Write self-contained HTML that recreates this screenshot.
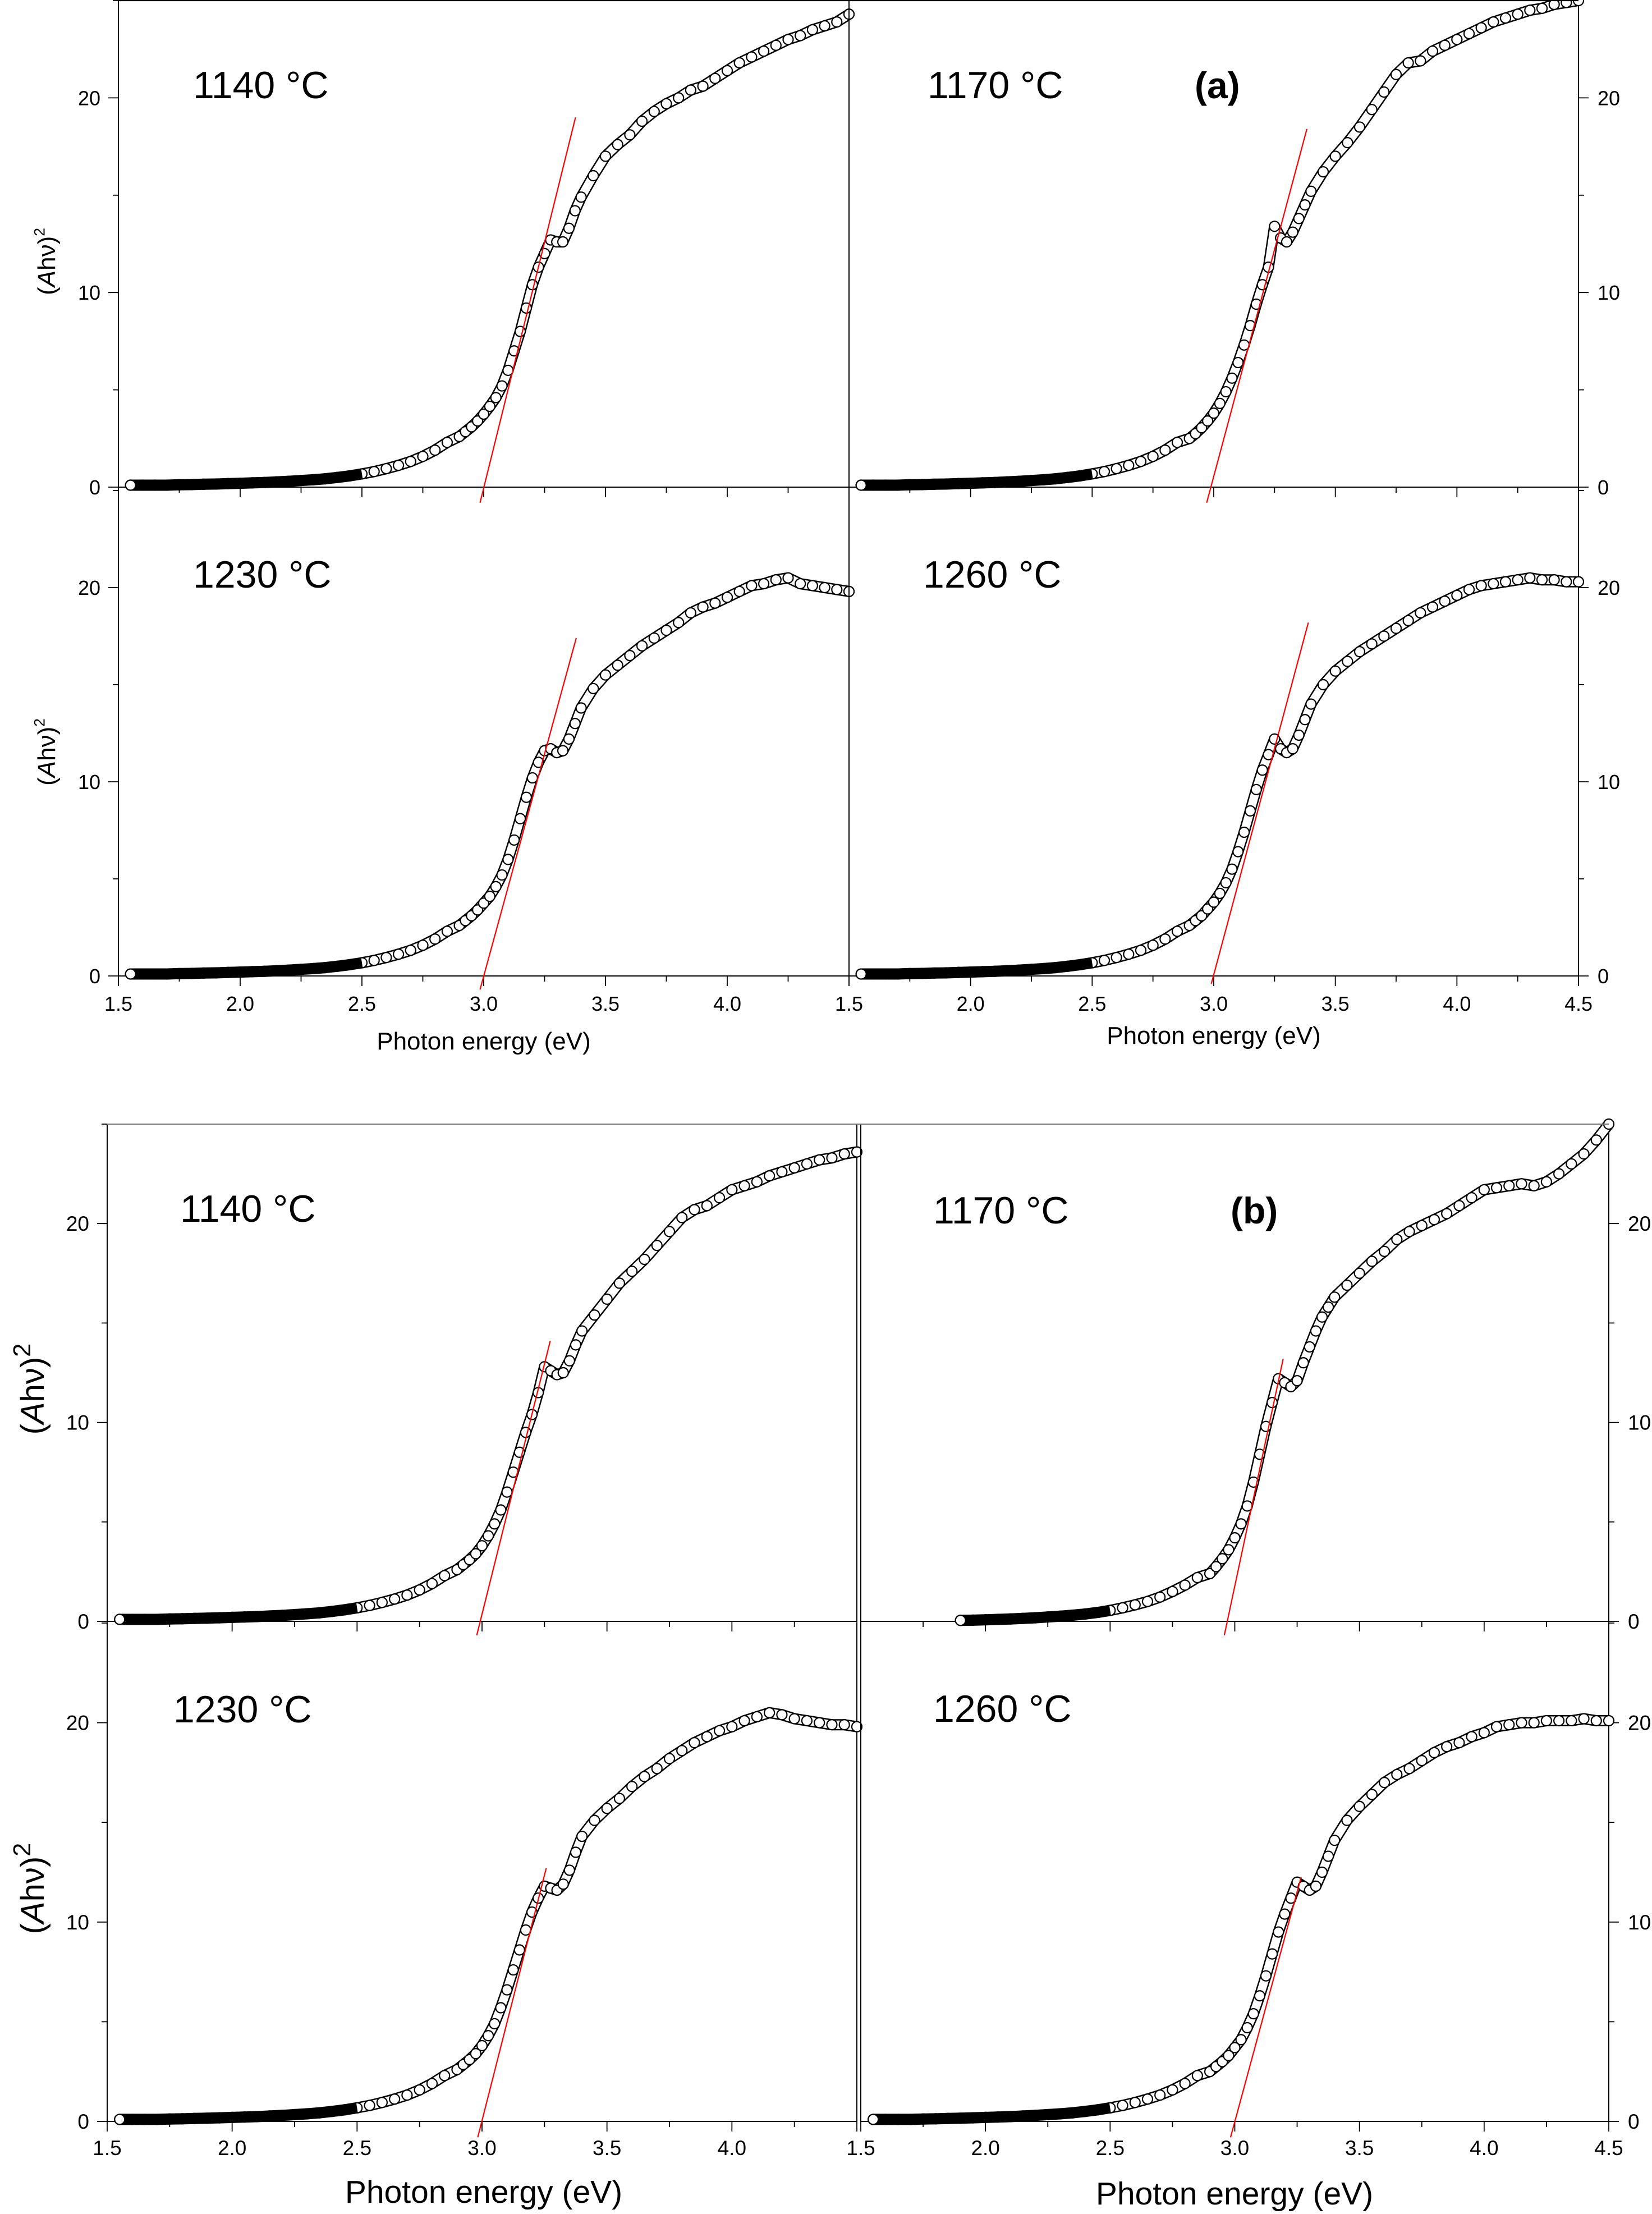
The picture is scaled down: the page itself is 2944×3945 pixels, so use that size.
<!DOCTYPE html>
<html><head><meta charset="utf-8"><style>
html,body{margin:0;padding:0;background:#fff;}
svg{display:block;font-family:"Liberation Sans",Arial,sans-serif;}
</style></head><body>
<svg id="fig" width="2944" height="3945" viewBox="0 0 2944 3945" xmlns="http://www.w3.org/2000/svg"></svg>
<script>
// ---- data ----
const energies = [1.55,1.60,1.65,1.70,1.75,1.80,1.85,1.90,1.95,2.00,2.05,2.10,2.15,2.20,2.25,2.30,2.35,2.40,2.45,2.50,2.55,2.60,2.65,2.70,2.75,2.80,2.85,
2.900,2.925,2.950,2.975,3.000,3.025,3.050,3.075,3.100,3.125,3.150,3.175,3.200,3.225,3.250,3.275,3.300,3.325,3.350,3.375,3.400,
3.45,3.50,3.55,3.60,3.65,3.70,3.75,3.80,3.85,3.90,3.95,4.00,4.05,4.10,4.15,4.20,4.25,4.30,4.35,4.40,4.45,4.50];
const lowA = [0.1,0.1,0.1,0.1,0.12,0.13,0.15,0.16,0.18,0.2,0.22,0.24,0.27,0.3,0.34,0.38,0.43,0.5,0.58,0.68,0.8,0.95,1.12,1.32,1.58,1.9,2.3];
const yA1140 = lowA.concat([2.6,2.85,3.1,3.4,3.75,4.15,4.6,5.2,6.0,7.0,8.0,9.2,10.4,11.3,12.0,12.7,12.6,12.6,13.3,14.2,14.9,
 16.0,17.0,17.6,18.1,18.8,19.3,19.7,20.0,20.4,20.6,21.0,21.4,21.8,22.1,22.4,22.7,23.0,23.2,23.5,23.7,23.9,24.3]);
const yA1170 = lowA.concat([2.5,2.75,3.05,3.4,3.8,4.3,4.9,5.6,6.4,7.3,8.3,9.4,10.4,11.3,13.4,12.8,12.6,13.1,13.8,14.5,15.2,
 16.2,17.0,17.7,18.5,19.4,20.3,21.2,21.8,21.9,22.4,22.7,23.0,23.3,23.6,23.9,24.1,24.3,24.5,24.6,24.8,24.9,25.0]);
const yA1230 = lowA.concat([2.6,2.85,3.1,3.4,3.75,4.1,4.6,5.2,6.0,7.0,8.1,9.2,10.2,11.0,11.6,11.7,11.5,11.6,12.2,13.0,13.8,
 14.8,15.5,16.0,16.5,17.0,17.4,17.8,18.2,18.7,19.0,19.2,19.5,19.8,20.1,20.2,20.4,20.5,20.2,20.1,20.0,19.9,19.8]);
const yA1260 = lowA.concat([2.6,2.85,3.1,3.45,3.8,4.25,4.8,5.5,6.4,7.4,8.5,9.6,10.6,11.4,12.2,11.7,11.5,11.7,12.4,13.2,14.0,
 15.0,15.7,16.2,16.7,17.1,17.5,17.9,18.3,18.7,19.0,19.3,19.6,19.9,20.1,20.2,20.3,20.4,20.5,20.4,20.4,20.3,20.3]);
const yB1140 = lowA.concat([2.6,2.85,3.1,3.4,3.8,4.3,4.9,5.6,6.5,7.5,8.5,9.5,10.4,11.5,12.8,12.6,12.4,12.5,13.1,13.9,14.6,
 15.4,16.2,17.0,17.6,18.2,18.9,19.6,20.3,20.7,20.9,21.3,21.7,21.9,22.1,22.4,22.6,22.8,23.0,23.2,23.3,23.5,23.6]);
const yB1170 = [null,null,null,null,null,null,null,0.05,0.06,0.08,0.1,0.12,0.15,0.18,0.22,0.26,0.31,0.37,0.45,0.55,0.68,0.83,1.0,1.22,1.5,1.82,2.2,
 2.4,2.75,3.15,3.6,4.2,4.9,5.8,7.0,8.4,9.8,11.0,12.2,12.0,11.8,12.1,13.0,13.8,14.6,15.3,15.8,16.3,
 16.9,17.5,18.1,18.6,19.2,19.6,19.9,20.2,20.5,20.9,21.3,21.7,21.8,21.9,22.0,21.9,22.1,22.5,23.0,23.5,24.2,25.0];
const yB1230 = lowA.concat([2.6,2.85,3.1,3.4,3.8,4.3,4.9,5.7,6.6,7.6,8.6,9.6,10.5,11.2,11.8,11.7,11.6,11.9,12.6,13.5,14.3,
 15.1,15.7,16.2,16.8,17.3,17.7,18.2,18.6,19.0,19.3,19.6,19.8,20.1,20.3,20.5,20.4,20.2,20.1,20.0,19.9,19.9,19.8]);
const yB1260 = lowA.concat([2.5,2.75,3.0,3.3,3.7,4.1,4.7,5.4,6.3,7.3,8.4,9.5,10.4,11.2,12.0,11.8,11.6,11.8,12.5,13.3,14.1,
 15.1,15.8,16.4,17.0,17.4,17.7,18.1,18.5,18.8,19.0,19.3,19.5,19.8,19.9,20.0,20.0,20.1,20.1,20.1,20.2,20.1,20.1]);
// tangent-fit endpoints [x0,x1] / [y0,y1]
const fitA1140X = [2.985,3.377], fitA1140Y = [-0.8,19.0];
const fitA1170X = [2.971,3.383], fitA1170Y = [-0.8,18.4];
const fitA1230X = [2.985,3.380], fitA1230Y = [-0.7,17.4];
const fitA1260X = [2.990,3.389], fitA1260Y = [-0.4,18.2];
const fitB1140X = [2.979,3.273], fitB1140Y = [-0.7,14.1];
const fitB1170X = [2.958,3.194], fitB1170Y = [-0.7,13.2];
const fitB1230X = [2.983,3.257], fitB1230Y = [-0.8,12.7];
const fitB1260X = [2.983,3.266], fitB1260Y = [-0.8,12.25];
const xTicks = [1.5,2.0,2.5,3.0,3.5,4.0,4.5];
const xTickLabels = ["1.5","2.0","2.5","3.0","3.5","4.0","4.5"];
const yTicks = [0,10,20];
const yTickLabels = ["0","10","20"];

const NS = "http://www.w3.org/2000/svg";
const svg = document.getElementById('fig');
function mk(tag, attrs, parent){ const e=document.createElementNS(NS,tag); for(const k in attrs) e.setAttribute(k,attrs[k]); (parent||svg).appendChild(e); return e; }

function panel(name, P, ys, fx, fy, label, side, showXLabels, tickFont){
  const g = mk('g',{});
  
  
  const sx = v => P.xl + (v-1.5)/3*(P.xr-P.xl);
  const sy = v => P.yb - v*(P.yb-P.yt)/25;
  const ax = mk('path',{d:`M${P.xl},${P.yt} L${P.xl},${P.yb} L${P.xr},${P.yb} L${P.xr},${P.yt}`,fill:'none',stroke:'#000','stroke-width':2},g);
  
  
  const axX = side==='left'?P.xl:P.xr, dir = side==='left'?-1:1;
  for(let v=0; v<=25; v+=5){
    const len = (v%10===0)?18:10;
    mk('line',{x1:axX,y1:sy(v),x2:axX+dir*len,y2:sy(v),stroke:'#000','stroke-width':1.8},g);
  }
  yTicks.forEach((v,i)=>{
    const t = mk('text',{x: side==='left'? axX-32 : axX+34, y: sy(v)+13, 'font-size':tickFont, 'text-anchor': side==='left'?'end':'start'},g);
    t.textContent = yTickLabels[i];
    
    
  });
  for(let v=1.5; v<=4.5001; v+=0.25){
    const major = Math.abs(v*2-Math.round(v*2))<1e-6;
    mk('line',{x1:sx(v),y1:P.yb,x2:sx(v),y2:P.yb+(major?18:10),stroke:'#000','stroke-width':1.8},g);
  }
  if(showXLabels){
    xTicks.forEach((v,i)=>{
      if(P.skipLast && i===xTicks.length-1) return;
      const t = mk('text',{x:sx(v), y:P.yb+P.lblOff, 'font-size':tickFont, 'text-anchor':'middle'},g);
      t.textContent = xTickLabels[i];
      
      
    });
  }
  let d='', dLow='';
  energies.forEach((e,i)=>{
    if(ys[i]==null) return;
    const pt = sx(e).toFixed(1)+','+sy(ys[i]).toFixed(1);
    d += (d?'L':'M')+pt;
    if(e<=2.5) dLow += (dLow?'L':'M')+pt;
  });
  mk('path',{d, fill:'none', stroke:'#000','stroke-width':20,'stroke-linejoin':'round','stroke-linecap':'round'},g);
  mk('path',{d, fill:'none', stroke:'#fff','stroke-width':15,'stroke-linejoin':'round','stroke-linecap':'round'},g);
  energies.forEach((e,i)=>{
    if(ys[i]==null) return;
    const c = mk('circle',{cx:sx(e), cy:sy(ys[i]), r:9, fill:'#fff', stroke:'#000','stroke-width':2.2},g);
    
    
  });
  if(dLow){
    const first = energies.findIndex((e,i)=>ys[i]!=null);
    mk('path',{d:dLow, fill:'none', stroke:'#000','stroke-width':17,'stroke-linejoin':'round','stroke-linecap':'butt'},g);
    mk('circle',{cx:sx(energies[first]), cy:sy(ys[first]), r:9, fill:'#fff', stroke:'#000','stroke-width':2.2},g);
  }
  const fl = mk('line',{x1:sx(fx[0]),y1:sy(fy[0]),x2:sx(fx[1]),y2:sy(fy[1]),stroke:'#ff0000','stroke-width':2.2},g);
  
  
  const t = mk('text',{x:label.x, y:label.y, 'font-size':68},g);
  t.textContent = label.text;
  
  
}

const aL={xl:211,xr:1513}, aR={xl:1513,xr:2813};
panel('panel-a-1140', {...aL, yb:868, yt:1}, yA1140, fitA1140X, fitA1140Y, {x:344,y:175,text:'1140 °C'}, 'left', false, 36);
panel('panel-a-1170', {...aR, yb:868, yt:1}, yA1170, fitA1170X, fitA1170Y, {x:1653,y:175,text:'1170 °C'}, 'right', false, 36);
panel('panel-a-1230', {...aL, yb:1739, yt:874, lblOff:62, skipLast:true}, yA1230, fitA1230X, fitA1230Y, {x:344,y:1047,text:'1230 °C'}, 'left', true, 36);
panel('panel-a-1260', {...aR, yb:1739, yt:874, lblOff:62}, yA1260, fitA1260X, fitA1260Y, {x:1645,y:1047,text:'1260 °C'}, 'right', true, 36);
const bL={xl:191,xr:1527}, bR={xl:1534,xr:2867};
panel('panel-b-1140', {...bL, yb:2889, yt:2003}, yB1140, fitB1140X, fitB1140Y, {x:321,y:2177,text:'1140 °C'}, 'left', false, 37);
panel('panel-b-1170', {...bR, yb:2889, yt:2003}, yB1170, fitB1170X, fitB1170Y, {x:1663,y:2180,text:'1170 °C'}, 'right', false, 37);
panel('panel-b-1230', {...bL, yb:3780, yt:2892, lblOff:60, skipLast:true}, yB1230, fitB1230X, fitB1230Y, {x:309,y:3069,text:'1230 °C'}, 'left', true, 37);
panel('panel-b-1260', {...bR, yb:3780, yt:2892, lblOff:60}, yB1260, fitB1260X, fitB1260Y, {x:1663,y:3068,text:'1260 °C'}, 'right', true, 37);

mk('line',{x1:211,y1:1,x2:2813,y2:1,stroke:'#000','stroke-width':2.2});
mk('line',{x1:191,y1:2003,x2:2867,y2:2003,stroke:'#777','stroke-width':2});

function txt(name, attrs, content, html){
  const t = mk('text', attrs);
  if(html) t.innerHTML = content; else t.textContent = content;
  
  
  return t;
}
txt('panel-a-label',{x:2129,y:175,'font-size':66,'font-weight':'bold'},'(a)');
txt('panel-b-label',{x:2193,y:2180,'font-size':66,'font-weight':'bold'},'(b)');
txt('x-axis-title-a',{x:862,y:1870,'font-size':44,'text-anchor':'middle'},'Photon energy (eV)');
txt('x-axis-title-a-right',{x:2163,y:1860,'font-size':44,'text-anchor':'middle'},'Photon energy (eV)');
txt('x-axis-title-b',{x:862,y:3925,'font-size':57,'text-anchor':'middle'},'Photon energy (eV)');
txt('x-axis-title-b-right',{x:2200,y:3928,'font-size':57,'text-anchor':'middle'},'Photon energy (eV)');
const ytA = '(<tspan font-style="italic">A</tspan>hν)<tspan font-size="0.6em" dy="-0.7em">2</tspan>';
txt('y-axis-title-a-top',{x:0,y:0,'font-size':44,'text-anchor':'middle',transform:'translate(98,466) rotate(-90)'},ytA,true);
txt('y-axis-title-a-bottom',{x:0,y:0,'font-size':44,'text-anchor':'middle',transform:'translate(98,1340) rotate(-90)'},ytA,true);
const ytB = '(<tspan font-style="italic">A</tspan>hν)<tspan font-size="0.75em" dy="-0.55em">2</tspan>';
txt('y-axis-title-b-top',{x:0,y:0,'font-size':58,'text-anchor':'middle',transform:'translate(78,2475) rotate(-90)'},ytB,true);
txt('y-axis-title-b-bottom',{x:0,y:0,'font-size':58,'text-anchor':'middle',transform:'translate(78,3365) rotate(-90)'},ytB,true);
</script>
</body></html>
